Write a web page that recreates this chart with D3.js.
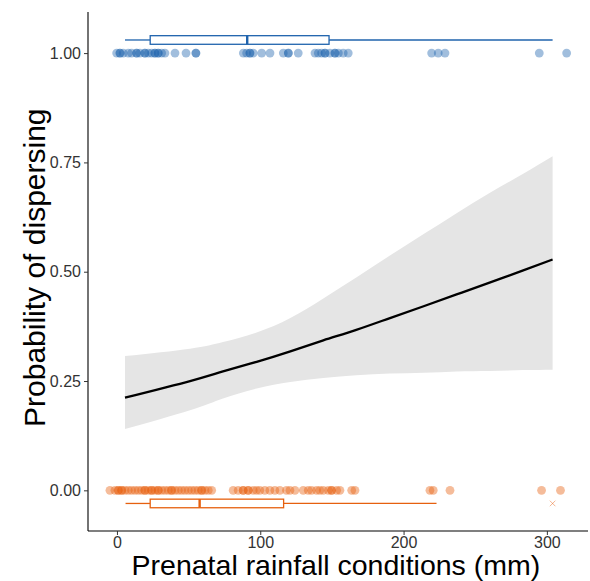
<!DOCTYPE html>
<html>
<head>
<meta charset="utf-8">
<script src="https://cdn.jsdelivr.net/npm/d3@7"></script>
<style>
  body { margin: 0; background: #fff; }
  text { font-family: "Liberation Sans", Arial, sans-serif; }
</style>
</head>
<body>
<div id="chart"></div>
<script>
// rainfall (mm) of dispersers (y = 1) and non-dispersers (y = 0)
var dispersed = [-0.2, 2.1, 2.1, 4.4, 7.9, 10.2, 13.7, 13.7, 16, 19.5, 19.5, 21.9, 24.2, 26.5, 26.5, 28.8, 28.8, 31.2, 33.5,
  40.5, 48.2, 55.1, 55.1, 88.2, 90.5, 92.8, 92.8, 95.1, 101, 106.8, 116.1, 119.6, 119.6, 126.5,
  138.2, 140.5, 142.8, 145.2, 145.2, 148.6, 152.1, 152.1, 154.5, 157.9, 161.4, 219.6, 224.2, 228.9, 294.7, 313.8];
var stayed = [-4.9, -1.4, 0.9, 0.9, 3.3, 3.3, 5.6, 7.9, 10.2, 12.6, 14.9, 17.2, 19.5, 19.5, 21.9, 24.2, 24.2, 26.5, 28.8, 28.8,
  31.2, 33.5, 35.8, 38.1, 38.1, 40.5, 42.8, 45.1, 47.4, 49.8, 52.1, 54.4, 56.7, 59.1, 59.1, 61.4, 63.7, 66.1,
  81.1, 84.6, 88.1, 88.1, 91.6, 91.6, 95.1, 97.4, 99.7, 103.2, 106.7, 110.2, 113.7, 118.3, 120.7, 124.2,
  130, 133.5, 135.8, 139.3, 141.6, 144, 147.5, 149.8, 149.8, 153.3, 155.6, 163.8, 166.1,
  218.4, 220.7, 232.4, 296.3, 309.5];

// box plot summaries [whisker low, q1, median, q3, whisker high]
var boxDispersed = [5.6, 23.2, 90.9, 148, 304];
var boxStayed = [6, 23.2, 57.7, 116.3, 223];
var outliersStayed = [304];

// fitted probability and confidence band
var fitX = [5.6, 51, 74, 97.5, 121, 144, 167, 190.5, 214, 237, 260, 283.5, 304];
var fitP = [0.212, 0.250, 0.272, 0.294, 0.318, 0.343, 0.367, 0.394, 0.421, 0.448, 0.475, 0.503, 0.528];
var fitLo = [0.140, 0.183, 0.210, 0.233, 0.248, 0.257, 0.263, 0.267, 0.269, 0.272, 0.273, 0.275, 0.276];
var fitHi = [0.307, 0.324, 0.339, 0.361, 0.394, 0.439, 0.487, 0.537, 0.586, 0.634, 0.680, 0.724, 0.764];

var xTicks = [0, 100, 200, 300];
var yTicks = [0, 0.25, 0.5, 0.75, 1];

var blue = "#1f63ad", orange = "#e6600f";

var W = 590, H = 581;
var margin = {top: 12, right: 2, bottom: 50, left: 88};
var w = W - margin.left - margin.right,
    h = H - margin.top - margin.bottom;

var x = d3.scaleLinear().domain([-20.2, 328.7]).range([0, w]);
var y = d3.scaleLinear().domain([-0.093, 1.094]).range([h, 0]);

var svg = d3.select("#chart").append("svg")
    .attr("width", W)
    .attr("height", H)
    .append("g")
    .attr("transform", "translate(" + margin.left + "," + margin.top + ")");

// ribbon
var band = fitX.map(function(d, i) { return {x: d, lo: fitLo[i], hi: fitHi[i], p: fitP[i]}; });
svg.append("path")
    .datum(band)
    .attr("fill", "#e5e5e5")
    .attr("d", d3.area()
        .curve(d3.curveNatural)
        .x(function(d) { return x(d.x); })
        .y0(function(d) { return y(d.lo); })
        .y1(function(d) { return y(d.hi); }));

svg.append("path")
    .datum(band)
    .attr("fill", "none")
    .attr("stroke", "#000")
    .attr("stroke-width", 2.3)
    .attr("d", d3.line()
        .curve(d3.curveNatural)
        .x(function(d) { return x(d.x); })
        .y(function(d) { return y(d.p); }));

// points
svg.selectAll("circle.disp")
    .data(dispersed)
    .enter().append("circle")
    .attr("class", "disp")
    .attr("cx", function(d) { return x(d); })
    .attr("cy", y(1))
    .attr("r", 4.4)
    .attr("fill", blue)
    .attr("fill-opacity", 0.42);

svg.selectAll("circle.stay")
    .data(stayed)
    .enter().append("circle")
    .attr("class", "stay")
    .attr("cx", function(d) { return x(d); })
    .attr("cy", y(0))
    .attr("r", 4.4)
    .attr("fill", orange)
    .attr("fill-opacity", 0.42);

// box plots
function drawBox(b, yc, col) {
    var g = svg.append("g");
    var half = 4.3;
    g.append("line")
        .attr("x1", x(b[0])).attr("x2", x(b[1]))
        .attr("y1", y(yc)).attr("y2", y(yc))
        .attr("stroke", col).attr("stroke-width", 1.3);
    g.append("line")
        .attr("x1", x(b[3])).attr("x2", x(b[4]))
        .attr("y1", y(yc)).attr("y2", y(yc))
        .attr("stroke", col).attr("stroke-width", 1.3);
    g.append("rect")
        .attr("x", x(b[1])).attr("width", x(b[3]) - x(b[1]))
        .attr("y", y(yc) - half).attr("height", half * 2)
        .attr("fill", "#fff").attr("stroke", col).attr("stroke-width", 1.3);
    g.append("line")
        .attr("x1", x(b[2])).attr("x2", x(b[2]))
        .attr("y1", y(yc) - half).attr("y2", y(yc) + half)
        .attr("stroke", col).attr("stroke-width", 2.4);
}
drawBox(boxDispersed, 1.03, blue);
drawBox(boxStayed, -0.03, orange);

svg.selectAll("path.out")
    .data(outliersStayed)
    .enter().append("path")
    .attr("class", "out")
    .attr("d", d3.symbol().type(d3.symbolX).size(22))
    .attr("transform", function(d) { return "translate(" + x(d) + "," + y(-0.03) + ")"; })
    .attr("fill", "none")
    .attr("stroke", orange)
    .attr("stroke-opacity", 0.45)
    .attr("stroke-width", 1);

// axes
var xAxis = svg.append("g")
    .attr("transform", "translate(0," + h + ")")
    .call(d3.axisBottom(x).tickValues(xTicks).tickSize(4).tickPadding(2).tickFormat(d3.format("d")));
var yAxis = svg.append("g")
    .call(d3.axisLeft(y).tickValues(yTicks).tickSize(4).tickPadding(3).tickFormat(d3.format(".2f")));

[xAxis, yAxis].forEach(function(a) {
    a.select(".domain").attr("stroke", "#000").attr("stroke-width", 1.1).attr("d",
        a === xAxis ? "M0,0H" + w : "M0,0V" + h);
    a.selectAll(".tick line").attr("stroke", "#333");
    a.selectAll(".tick text")
        .attr("fill", "#333")
        .style("font-size", "16px")
        .style("font-family", "'Liberation Sans', Arial, sans-serif");
});

svg.append("text")
    .attr("x", (x(0) + x(300)) / 2 + 4)
    .attr("y", h + 44)
    .attr("text-anchor", "middle")
    .style("font-size", "28.5px")
    .attr("fill", "#000")
    .text("Prenatal rainfall conditions (mm)");

svg.append("text")
    .attr("transform", "rotate(-90)")
    .attr("x", -(y(0.5) - 4))
    .attr("y", -margin.left + 45)
    .attr("text-anchor", "middle")
    .style("font-size", "30px")
    .attr("fill", "#000")
    .text("Probability of dispersing");
</script>
</body>
</html>
